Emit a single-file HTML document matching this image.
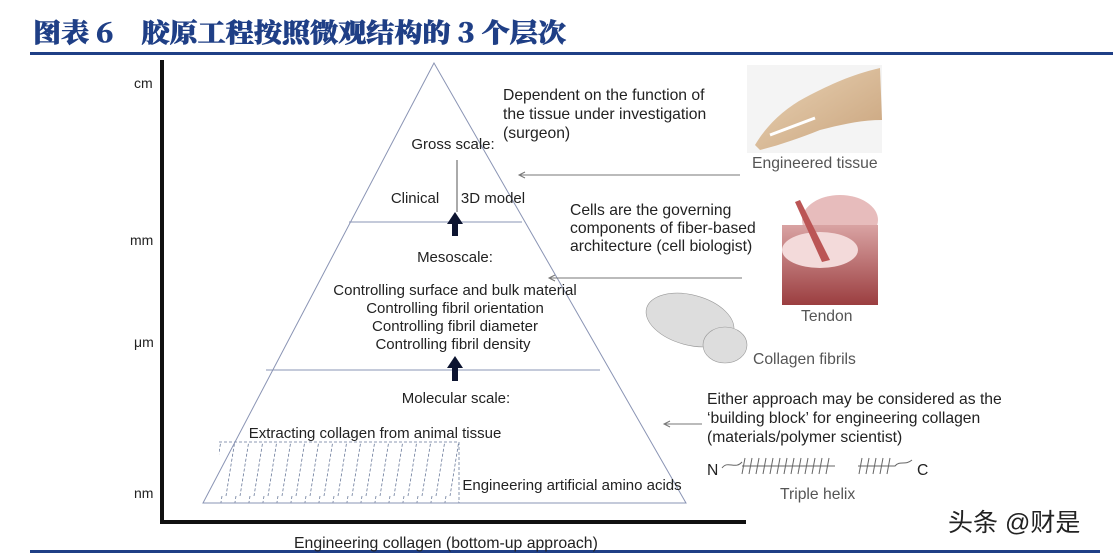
<!DOCTYPE html>
<html><head><meta charset="utf-8"><style>
html,body{margin:0;padding:0;background:#fff;}
body{width:1113px;height:556px;overflow:hidden;position:relative;}
svg{position:absolute;left:0;top:0;}
text{font-family:"Liberation Sans",Arial,sans-serif;}
</style></head><body>
<svg width="1113" height="556" viewBox="0 0 1113 556" xmlns="http://www.w3.org/2000/svg">
<defs>
<pattern id="hatch" width="14" height="62" patternUnits="userSpaceOnUse">
<line x1="12" y1="0" x2="2" y2="62" stroke="#6a7a9a" stroke-width="0.8" stroke-dasharray="3,2"/>
</pattern>
<linearGradient id="skin" x1="0" y1="0" x2="1" y2="1"><stop offset="0" stop-color="#e9d3b5"/><stop offset="1" stop-color="#c9a37c"/></linearGradient>
<linearGradient id="tend" x1="0" y1="0" x2="0" y2="1"><stop offset="0" stop-color="#d9a3a3"/><stop offset="1" stop-color="#9b3e40"/></linearGradient>
</defs>
<!-- title -->
<text x="33" y="42" font-size="26" font-weight="bold" fill="#1f3f86" stroke="#1f3f86" stroke-width="0.6" textLength="533" lengthAdjust="spacingAndGlyphs" style="font-family:'Noto Serif CJK SC','Liberation Serif',serif;font-weight:900">图表 6　胶原工程按照微观结构的 3 个层次</text>
<rect x="30" y="52" width="1083" height="3" fill="#1f3f86"/>
<rect x="30" y="550" width="1070" height="3" fill="#1f3f86"/>
<!-- axes -->
<rect x="160" y="60" width="4" height="464" fill="#111"/>
<rect x="160" y="520" width="586" height="4" fill="#111"/>
<g font-size="14" fill="#222">
<text x="134" y="88">cm</text>
<text x="130" y="245">mm</text>
<text x="134" y="347">μm</text>
<text x="134" y="498">nm</text>
<text x="294" y="548" font-size="15.8">Engineering collagen (bottom-up approach)</text>
</g>
<!-- hatched -->
<rect x="219" y="442" width="240" height="61" fill="url(#hatch)"/>
<path d="M219 442 H459 V503" fill="none" stroke="#6a7a9a" stroke-width="0.8" stroke-dasharray="3,2"/>
<!-- triangle -->
<polygon points="434,63 203,503 686,503" fill="none" stroke="#8a94b4" stroke-width="1"/>
<line x1="349" y1="222" x2="522" y2="222" stroke="#8a94b4"/>
<line x1="266" y1="370" x2="600" y2="370" stroke="#8a94b4"/>
<line x1="457" y1="160" x2="457" y2="212" stroke="#555"/>
<!-- arrows -->
<path d="M452 236 V224 H447 L455 212 L463 224 H458 V236 Z" fill="#0c1430"/>
<path d="M452 381 V368 H447 L455 356 L463 368 H458 V381 Z" fill="#0c1430"/>
<g font-size="15" fill="#222" text-anchor="middle">
<text x="453" y="149">Gross scale:</text>
<text x="415" y="203">Clinical</text>
<text x="493" y="203">3D model</text>
<text x="455" y="262">Mesoscale:</text>
<text x="455" y="295">Controlling surface and bulk material</text>
<text x="455" y="313">Controlling fibril orientation</text>
<text x="455" y="331">Controlling fibril diameter</text>
<text x="453" y="349">Controlling fibril density</text>
<text x="456" y="403">Molecular scale:</text>
<text x="375" y="438">Extracting collagen from animal tissue</text>
<text x="572" y="490">Engineering artificial amino acids</text>
</g>
<g font-size="15.7" fill="#222">
<text x="503" y="100">Dependent on the function of</text>
<text x="503" y="119">the tissue under investigation</text>
<text x="503" y="138">(surgeon)</text>
<text x="570" y="215">Cells are the governing</text>
<text x="570" y="233">components of fiber-based</text>
<text x="570" y="251">architecture (cell biologist)</text>
<text x="707" y="404">Either approach may be considered as the</text>
<text x="707" y="423">‘building block’ for engineering collagen</text>
<text x="707" y="442">(materials/polymer scientist)</text>
<text x="707" y="475">N</text>
<text x="917" y="475">C</text>
</g>
<g font-size="15.7" fill="#555">
<text x="752" y="168">Engineered tissue</text>
<text x="801" y="321">Tendon</text>
<text x="753" y="364">Collagen fibrils</text>
<text x="780" y="499">Triple helix</text>
</g>
<!-- pointer arrows -->
<g stroke="#777" stroke-width="1" fill="none">
<line x1="520" y1="175" x2="740" y2="175"/><path d="M525 172 L519 175 L525 178"/>
<line x1="550" y1="278" x2="742" y2="278"/><path d="M555 275 L549 278 L555 281"/>
<line x1="665" y1="424" x2="702" y2="424"/><path d="M670 421 L664 424 L670 427"/>
</g>
<!-- hand -->
<rect x="747" y="65" width="135" height="88" fill="#f4f4f4"/>
<path d="M755 145 C770 120 790 105 810 95 C830 85 850 75 880 68 L882 120 C860 120 840 125 820 130 C800 138 780 145 760 150 Z" fill="url(#skin)"/>
<path d="M770 135 L815 118" stroke="#fff" stroke-width="3"/>
<!-- tendon -->
<g>
<ellipse cx="840" cy="220" rx="38" ry="25" fill="#e7bcbc"/>
<rect x="782" y="225" width="96" height="80" fill="url(#tend)"/>
<ellipse cx="820" cy="250" rx="38" ry="18" fill="#f3dada"/>
<path d="M800 200 L830 260 L822 262 L795 202 Z" fill="#b55"/>
</g>
<!-- fibrils -->
<g fill="#ddd" stroke="#999" stroke-width="0.6">
<ellipse cx="690" cy="320" rx="45" ry="25" transform="rotate(15 690 320)"/>
<ellipse cx="725" cy="345" rx="22" ry="18"/>
</g>
<!-- helix -->
<g stroke="#666" stroke-width="1" fill="none">
<path d="M722 468 C728 460 735 470 742 462 M742 466 H835 M858 466 H895 C900 460 905 466 912 460"/>
<path d="M745 458 l-3 16 M752 458 l-3 16 M759 458 l-3 16 M766 458 l-3 16 M773 458 l-3 16 M780 458 l-3 16 M787 458 l-3 16 M794 458 l-3 16 M801 458 l-3 16 M808 458 l-3 16 M815 458 l-3 16 M822 458 l-3 16 M829 458 l-3 16 M862 458 l-3 16 M869 458 l-3 16 M876 458 l-3 16 M883 458 l-3 16 M890 458 l-3 16"/>
</g>
<text x="948" y="531" font-size="25" fill="#222" style="font-family:'Liberation Sans','Noto Sans CJK SC',sans-serif">头条 @财是</text>
</svg>
</body></html>
